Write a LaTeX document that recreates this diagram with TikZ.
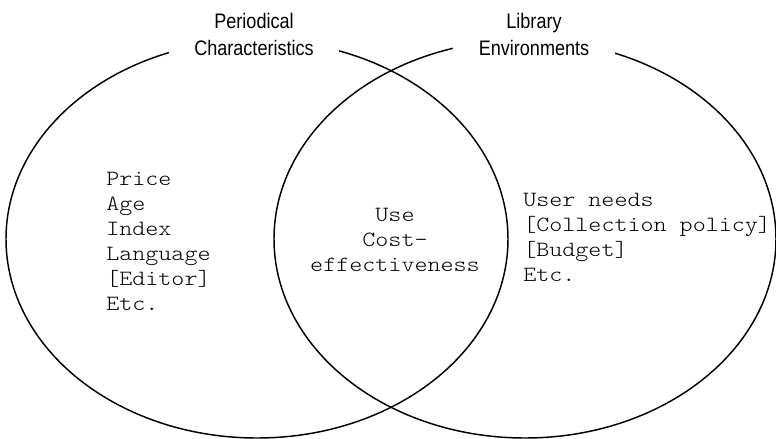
\documentclass[tikz,border=0pt]{standalone}
\usepackage{fontspec}
\usepackage{tikz}
\usetikzlibrary{shapes.geometric}
\newfontfamily\listfont{lmmonolt10-regular.otf}[FakeStretch=1.143]
\newfontfamily\headfont{Liberation Sans}[FakeStretch=0.86]

\begin{document}
\begin{tikzpicture}[x=0.75pt,y=-0.75pt,
  set/.style={ellipse,draw,line width=1.1pt,inner sep=0pt,minimum width=376.5pt,minimum height=298.5pt},
  heading/.style={fill=white,align=center,inner xsep=19pt,inner ysep=3pt,font=\headfont\fontsize{15.75}{20.25}\selectfont},
  itemlist/.style={inner sep=0pt,font=\listfont\fontsize{16.3}{18.75}\selectfont}]
\useasboundingbox (0,0) rectangle (776,439);
\node[set] (periodical) at (257,239) {};
\node[set] (library) at (525,239) {};
\node[heading] (periodicalhead) at (254,34) {Periodical\\Characteristics};
\node[heading] (libraryhead) at (534,34) {Library\\Environments};
% base anchor sits on the last line
\node[itemlist,align=left,anchor=base west] (attributes) at (106,310) {Price\\Age\\Index\\Language\\{}[Editor]\\Etc.};
\node[itemlist,align=center,anchor=base] (overlap) at (395,271) {Use\\Cost-\\effectiveness};
\node[itemlist,align=left,anchor=base west] (needs) at (523,281) {User needs\\{}[Collection policy]\\{}[Budget]\\Etc.};
\end{tikzpicture}
\end{document}
